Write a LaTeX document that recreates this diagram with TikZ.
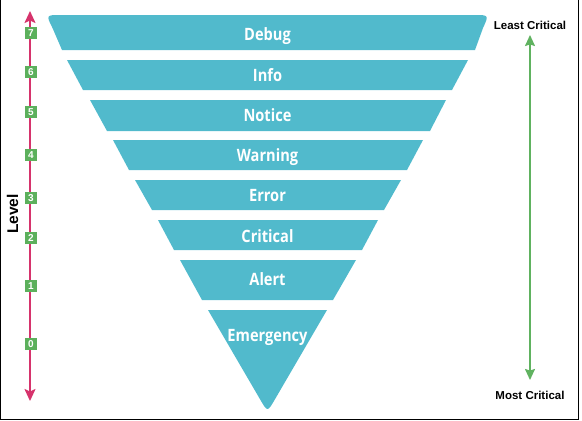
\documentclass[tikz,border=0pt]{standalone}
\usepackage{fontspec}
\setmainfont{Open Sans}
\newfontfamily\bandfont[FakeStretch=0.86]{Open Sans}
\newfontfamily\arialf{Liberation Sans}
\usetikzlibrary{arrows.meta}
\definecolor{bandc}{RGB}{81,186,204}
\definecolor{pinkc}{RGB}{214,51,108}
\definecolor{greenc}{RGB}{96,178,96}
\definecolor{boxc}{RGB}{92,176,92}
\tikzset{
  band/.style={fill=bandc, draw=none},
  bandlabel/.style={text=white, font=\bandfont\fontsize{17}{19}\selectfont\bfseries, inner sep=0pt, anchor=base},
  lvl/.style={fill=boxc, text=white, minimum width=12.5pt, minimum height=12.5pt, inner sep=0pt,
    font=\arialf\fontsize{10}{11}\selectfont\bfseries},
  crit/.style={font=\arialf\fontsize{11.5}{13}\selectfont\bfseries, inner sep=0pt},
  pinkarrow/.style={draw=pinkc, line width=1.8pt, {Stealth[width=11pt,length=12pt,inset=2.5pt]}-{Stealth[width=11pt,length=12pt,inset=2.5pt]}},
  greenarrow/.style={draw=greenc, line width=1.6pt, {Stealth[width=10pt,length=11pt,inset=1.5pt]}-{Stealth[width=10pt,length=11pt,inset=1.5pt]}}
}
\begin{document}
\begin{tikzpicture}[x=1pt,y=-1pt]
\useasboundingbox (0,0) rectangle (582,421);
\draw[line width=1.3pt] (0.7,0) -- (0.7,419.3) -- (578.3,419.3) -- (578.3,0);
% Debug band (rounded top corners)
\fill[band] (62,50) -- (52.5,28) .. controls (46,15) .. (61,15) -- (474,15) .. controls (489,15) .. (483,28) -- (475,50) -- cycle;
\node[bandlabel] (debug) at (267.5,40) {Debug};
% other bands
\fill[band] (67,60) -- (468,60) -- (452,90) -- (83,90) -- cycle;
\node[bandlabel] (info) at (267.5,81) {Info};
\fill[band] (90,100) -- (446,100) -- (430,131) -- (107,131) -- cycle;
\node[bandlabel] (notice) at (267.5,121.5) {Notice};
\fill[band] (113,140) -- (423,140) -- (407,170) -- (129,170) -- cycle;
\node[bandlabel] (warning) at (267.5,161.5) {Warning};
\fill[band] (135,180) -- (401,180) -- (384,210) -- (152,210) -- cycle;
\node[bandlabel] (error) at (267.5,201.5) {Error};
\fill[band] (158,220) -- (378,220) -- (362,250) -- (174,250) -- cycle;
\node[bandlabel] (critical) at (267.5,242) {Critical};
\fill[band] (180,260) -- (356,260) -- (333,300) -- (202,300) -- cycle;
\node[bandlabel] (alert) at (267.5,285.5) {Alert};
\fill[band] (208,310) -- (327,310) -- (274.6,399.9) .. controls (267.5,412) .. (260.4,399.9) -- cycle;
\node[bandlabel] (emergency) at (267.5,341) {Emergency};
% level axis
\coordinate (ptop) at (30,11);
\coordinate (pbot) at (30,401);
\draw[pinkarrow] (ptop) -- (pbot);
\node[lvl] (l7) at (31,33) {7};
\node[lvl] (l6) at (31,72) {6};
\node[lvl] (l5) at (31,112) {5};
\node[lvl] (l4) at (31,155) {4};
\node[lvl] (l3) at (31,198) {3};
\node[lvl] (l2) at (31,238) {2};
\node[lvl] (l1) at (31,286) {1};
\node[lvl] (l0) at (31,344) {0};
\node[font=\arialf\fontsize{15.5}{18}\selectfont\bfseries, rotate=90, inner sep=0pt] (level) at (12.5,214) {Level};
% criticality axis
\node[crit] (least) at (530,25) {Least Critical};
\node[crit] (most) at (530,395) {Most Critical};
\coordinate (gtop) at (530,35);
\coordinate (gbot) at (530,380);
\draw[greenarrow] (gtop) -- (gbot);
\end{tikzpicture}
\end{document}
